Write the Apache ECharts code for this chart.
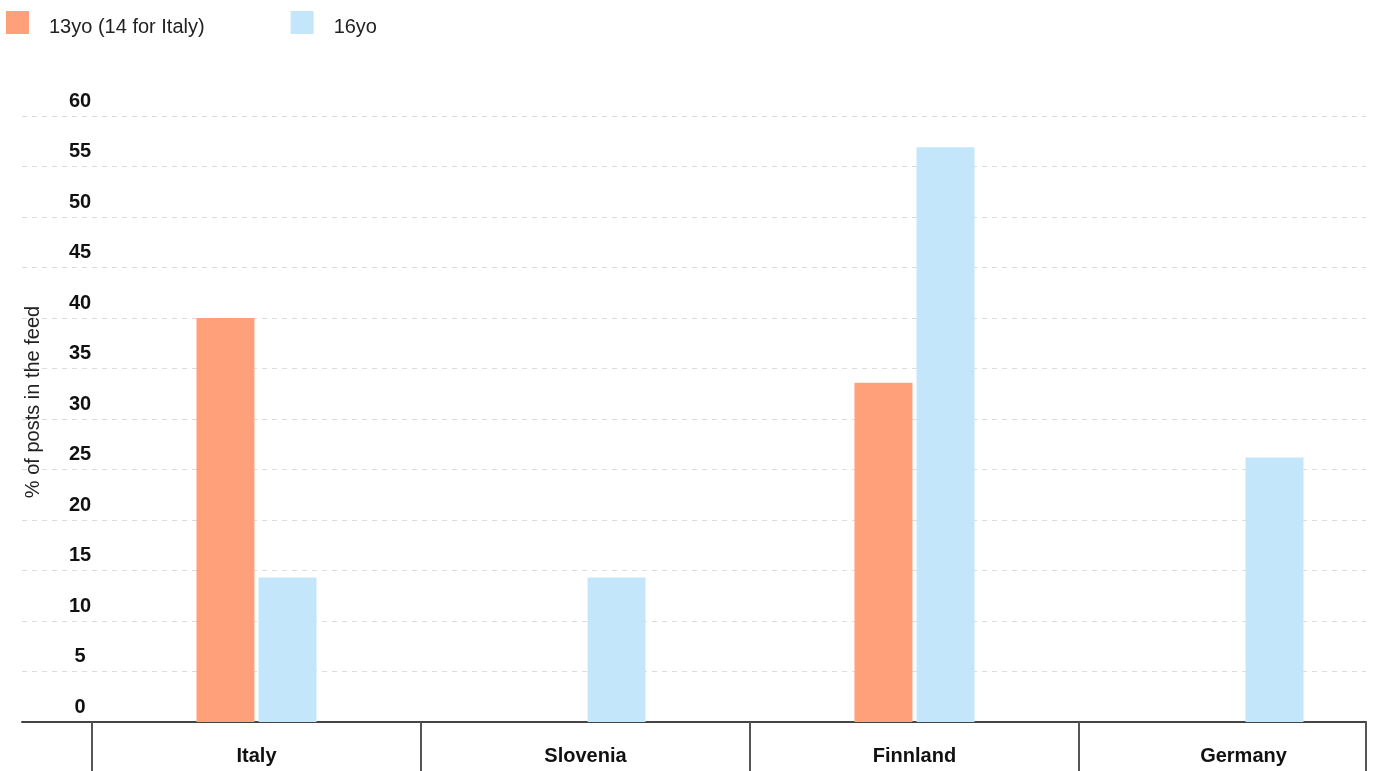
<!DOCTYPE html>
<html>
<head>
<meta charset="utf-8">
<script src="https://cdn.jsdelivr.net/npm/echarts@6/dist/echarts.min.js"></script>
<style>
  html, body { margin: 0; padding: 0; background: #fff; }
  #chart { width: 1375px; height: 771px; }
</style>
</head>
<body>
<div id="chart"></div>
<script>
const countries = ['Italy', 'Slovenia', 'Finnland', 'Germany'];
const age13 = [40, null, 33.6, null];
const age16 = [14.3, 14.3, 56.9, 26.2];
const yMin = 0;
const yMax = 60;
const yStep = 5;

const font = 'Liberation Sans, Arial, sans-serif';
const chart = echarts.init(document.getElementById('chart'));

chart.setOption({
  animation: false,
  textStyle: { fontFamily: font },
  legend: {
    left: 6,
    top: 11,
    padding: 0,
    icon: 'rect',
    itemWidth: 23,
    itemHeight: 23,
    itemGap: 86,
    formatter: name => '{t|' + name + '}',
    textStyle: {
      fontSize: 20, color: '#222', padding: [0, 0, 0, 15],
      rich: { t: { fontSize: 20, color: '#222', padding: [9, 0, 0, 0] } }
    },
    data: ['13yo (14 for Italy)', '16yo']
  },
  grid: [
    { left: 22, right: 9, top: 116, bottom: 49, outerBoundsMode: 'none', containLabel: false },
    { left: 92, right: -33, top: 116, bottom: 49, outerBoundsMode: 'none', containLabel: false }
  ],
  xAxis: [
    {
      type: 'value', gridIndex: 0, min: 0, max: 1,
      axisLine: { show: true, lineStyle: { color: '#444', width: 2 } },
      axisTick: { show: true, customValues: [1], length: 50, lineStyle: { color: '#555', width: 2 } },
      axisLabel: { show: false },
      splitLine: { show: false }
    },
    {
      type: 'category', gridIndex: 1, data: countries,
      axisLine: { show: false },
      axisTick: { show: true, length: 50, lineStyle: { color: '#555', width: 2 } },
      axisLabel: { fontSize: 20, fontWeight: 'bold', color: '#111', margin: 24 }
    }
  ],
  yAxis: [
    {
      type: 'value', gridIndex: 0, min: yMin, max: yMax, interval: yStep,
      name: '% of posts in the feed',
      nameLocation: 'middle',
      nameGap: -21,
      nameMoveOverlap: false,
      nameRotate: 90,
      nameTextStyle: { fontSize: 20, color: '#222', padding: [0, 0, 0, 34] },
      axisLine: { show: false },
      axisTick: { show: false },
      axisLabel: {
        inside: true, margin: 58, align: 'center', verticalAlign: 'bottom',
        fontSize: 20, fontWeight: 'bold', color: '#111', padding: [0, 0, 5, 0]
      },
      splitLine: { lineStyle: { color: '#dcdcdc', width: 1, type: [5, 5] } }
    },
    {
      type: 'value', gridIndex: 1, min: yMin, max: yMax, interval: yStep,
      show: false, splitLine: { show: false }
    }
  ],
  series: [
    {
      name: '13yo (14 for Italy)', type: 'bar', xAxisIndex: 1, yAxisIndex: 1,
      data: age13, barWidth: 58, barGap: '7%',
      itemStyle: { color: '#ffa07a' }
    },
    {
      name: '16yo', type: 'bar', xAxisIndex: 1, yAxisIndex: 1,
      data: age16, barWidth: 58, barGap: '7%',
      itemStyle: { color: '#c4e6fb' }
    }
  ]
});
</script>
</body>
</html>
